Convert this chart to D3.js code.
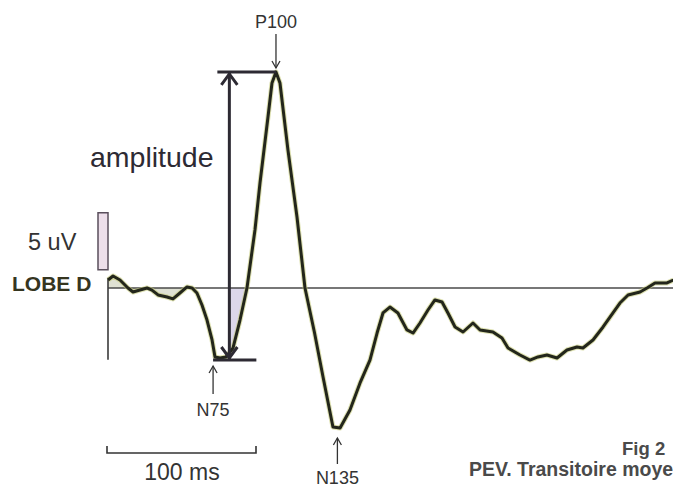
<!DOCTYPE html>
<html>
<head>
<meta charset="utf-8">
<script src="https://cdn.jsdelivr.net/npm/d3@7"></script>
<style>
  body { margin: 0; background: #fff; }
  text { font-family: "Liberation Sans", Arial, sans-serif; }
</style>
</head>
<body>
<div id="chart"></div>
<script>
// Averaged transient VEP trace: time in ms, amplitude in uV
var timeMs = [0, 3.4, 8.1, 13.5, 16.9, 21.6, 26.4, 29.7, 33.8, 39.9, 43.9, 48.6, 53.4, 56.8,
  60.1, 63.5, 66.9, 70.3, 72.3, 75.7, 79.7, 84.5, 89.2, 93.9, 99.3, 102.7, 108.1, 110.8,
  113.5, 116.2, 121.6, 127.7, 133.1, 139.5, 145.3, 152.0, 156.8, 163.5, 170.3, 177.0,
  181.8, 185.8, 190.5, 195.9, 202.0, 206.1, 210.8, 216.2, 220.9, 225.7, 229.7, 234.5,
  239.9, 246.6, 251.4, 260.1, 266.2, 270.3, 278.4, 285.1, 290.5, 296.6, 303.4, 310.1,
  316.9, 320.9, 327.7, 334.5, 341.2, 345.9, 351.4, 359.5, 364.2, 369.6, 377.7, 382];
var ampUv = [0.7, 1.05, 0.7, 0, -0.35, -0.18, 0, -0.18, -0.61, -0.79, -0.96, -0.44, 0.09, 0,
  -0.44, -1.49, -2.81, -4.56, -6.05, -6.14, -6.05, -5.26, -2.81, 0, 5.09, 9.21, 15.0, 17.98,
  18.95, 17.98, 12.1, 6.23, 0, -3.9, -7.81, -12.19, -12.28, -10.7, -8.33, -6.32,
  -3.95, -2.19, -1.67, -2.19, -3.68, -3.95, -3.07, -1.93, -1.05, -1.23, -2.19, -3.42,
  -3.86, -3.07, -3.68, -3.86, -4.39, -5.26, -5.88, -6.32, -6.05, -5.88, -6.14, -5.44,
  -5.18, -5.26, -4.56, -3.42, -2.19, -1.32, -0.61, -0.35, 0, 0.44, 0.44, 0.7];

// Labelled components and where their arrows point (ms)
var peakNames = ["N75", "P100", "N135"];
var peakTimes = [71, 113.5, 155];

// Calibration bars
var timeBarMs = 100;
var ampBarUv = 5;
var amplitudeAtMs = 82;

var svgWidth = 673;
var svgHeight = 490;

var svg = d3.select("#chart")
  .append("svg")
  .attr("width", svgWidth)
  .attr("height", svgHeight);

var trace = timeMs.map((t, i) => ({ t: t, v: ampUv[i] }));

var xScale = d3.scaleLinear().domain([0, 100]).range([108, 256]);
var yScale = d3.scaleLinear().domain([0, 5]).range([288, 231]);

var ink = "#2d2a33";

// light fills between trace and baseline
var fillArea = d3.area()
  .x(d => xScale(d.t))
  .y0(yScale(0))
  .y1(d => yScale(d.v));

svg.append("path")
  .datum(trace.filter(d => d.t <= 57))
  .attr("d", fillArea)
  .attr("fill", "#dfe1d3");

svg.append("clipPath")
  .attr("id", "ampClip")
  .append("rect")
  .attr("x", xScale(amplitudeAtMs))
  .attr("y", 0)
  .attr("width", 60)
  .attr("height", svgHeight);

svg.append("path")
  .datum(trace.filter(d => d.t >= 75 && d.t <= 94))
  .attr("d", fillArea)
  .attr("clip-path", "url(#ampClip)")
  .attr("fill", "#dcd7ea");

// baseline
svg.append("line")
  .attr("x1", xScale(0)).attr("x2", svgWidth)
  .attr("y1", yScale(0)).attr("y2", yScale(0))
  .attr("stroke", "#4a4a4a")
  .attr("stroke-width", 1.6);

// vertical axis stub
svg.append("line")
  .attr("x1", xScale(0)).attr("x2", xScale(0))
  .attr("y1", yScale(0.9)).attr("y2", yScale(-6.3))
  .attr("stroke", "#3a3a3a")
  .attr("stroke-width", 1.6);

// 5 uV bar
svg.append("rect")
  .attr("x", xScale(0) - 10)
  .attr("y", yScale(ampBarUv + 1.6))
  .attr("width", 10)
  .attr("height", yScale(1.6) - yScale(ampBarUv + 1.6))
  .attr("fill", "#eddfea")
  .attr("stroke", "#5a4f5c")
  .attr("stroke-width", 1.5);

svg.append("text")
  .attr("x", 28).attr("y", yScale(ampBarUv / 2 + 1.6) + 9)
  .style("font-size", "23.5px")
  .attr("fill", "#333")
  .text(ampBarUv + " uV");

svg.append("text")
  .attr("x", 12).attr("y", yScale(0) + 3)
  .style("font-size", "21px")
  .style("font-weight", "bold")
  .attr("fill", "#35351f")
  .text("LOBE D");

// trace
var line = d3.line()
  .x(d => xScale(d.t))
  .y(d => yScale(d.v));

svg.append("path")
  .datum(trace)
  .attr("d", line)
  .attr("fill", "none")
  .attr("stroke", "#c6cc7c")
  .attr("stroke-width", 5)
  .attr("stroke-linejoin", "round")
  .attr("opacity", 0.6);

svg.append("path")
  .datum(trace)
  .attr("d", line)
  .attr("fill", "none")
  .attr("stroke", "#23261b")
  .attr("stroke-width", 3)
  .attr("stroke-linejoin", "round");

// amplitude arrow between N75 trough and P100 peak
var vMax = d3.max(ampUv);
var vMin = d3.min(ampUv.filter((v, i) => timeMs[i] < 100));
var ax = xScale(amplitudeAtMs);

svg.append("line")
  .attr("x1", ax - 12).attr("x2", xScale(peakTimes[1]))
  .attr("y1", yScale(vMax)).attr("y2", yScale(vMax))
  .attr("stroke", ink).attr("stroke-width", 3);

svg.append("line")
  .attr("x1", xScale(peakTimes[0])).attr("x2", ax + 27)
  .attr("y1", yScale(vMin) + 2).attr("y2", yScale(vMin) + 2)
  .attr("stroke", ink).attr("stroke-width", 3);

svg.append("line")
  .attr("x1", ax).attr("x2", ax)
  .attr("y1", yScale(vMax) + 1).attr("y2", yScale(vMin) + 1)
  .attr("stroke", ink).attr("stroke-width", 3);

svg.append("path")
  .attr("d", `M${ax - 8},${yScale(vMax) + 13} L${ax},${yScale(vMax) + 2} L${ax + 8},${yScale(vMax) + 13}`)
  .attr("fill", "none").attr("stroke", ink).attr("stroke-width", 3);

svg.append("path")
  .attr("d", `M${ax - 8},${yScale(vMin) - 11} L${ax},${yScale(vMin)} L${ax + 8},${yScale(vMin) - 11}`)
  .attr("fill", "none").attr("stroke", ink).attr("stroke-width", 3);

svg.append("text")
  .attr("x", 90).attr("y", 167)
  .style("font-size", "28.5px")
  .attr("fill", ink)
  .text("amplitude");

// component labels with thin arrows
var labelY = { N75: [366, 394, 416], P100: [68, 34, 28], N135: [438, 464, 484] };
peakNames.forEach((name, i) => {
  var px = xScale(peakTimes[i]);
  var pos = labelY[name];
  var dir = pos[1] > pos[0] ? 1 : -1;
  svg.append("line")
    .attr("x1", px).attr("x2", px)
    .attr("y1", pos[0]).attr("y2", pos[1])
    .attr("stroke", "#333").attr("stroke-width", 1.3);
  svg.append("path")
    .attr("d", `M${px - 4},${pos[0] + dir * 7} L${px},${pos[0]} L${px + 4},${pos[0] + dir * 7}`)
    .attr("fill", "none").attr("stroke", "#333").attr("stroke-width", 1.3);
  svg.append("text")
    .attr("x", px).attr("y", pos[2])
    .attr("text-anchor", "middle")
    .style("font-size", "18px")
    .attr("fill", "#333")
    .text(name);
});

// 100 ms bar
var barY = 453;
svg.append("path")
  .attr("d", `M${xScale(0) - 1},${barY - 7} V${barY} H${xScale(timeBarMs)} V${barY - 7}`)
  .attr("fill", "none").attr("stroke", "#333").attr("stroke-width", 1.6);

svg.append("text")
  .attr("x", xScale(timeBarMs / 2)).attr("y", 480)
  .attr("text-anchor", "middle")
  .style("font-size", "23px")
  .attr("fill", "#333")
  .text(timeBarMs + " ms");

// caption (runs off the right edge, as in the scanned figure)
svg.append("text")
  .attr("x", 622).attr("y", 455)
  .style("font-size", "18.5px")
  .style("font-weight", "bold")
  .attr("fill", "#4a4a4a")
  .text("Fig 2");

svg.append("text")
  .attr("x", 469).attr("y", 476)
  .style("font-size", "19.5px")
  .style("font-weight", "bold")
  .attr("fill", "#4a4a4a")
  .text("PEV. Transitoire moyen");
</script>
</body>
</html>
